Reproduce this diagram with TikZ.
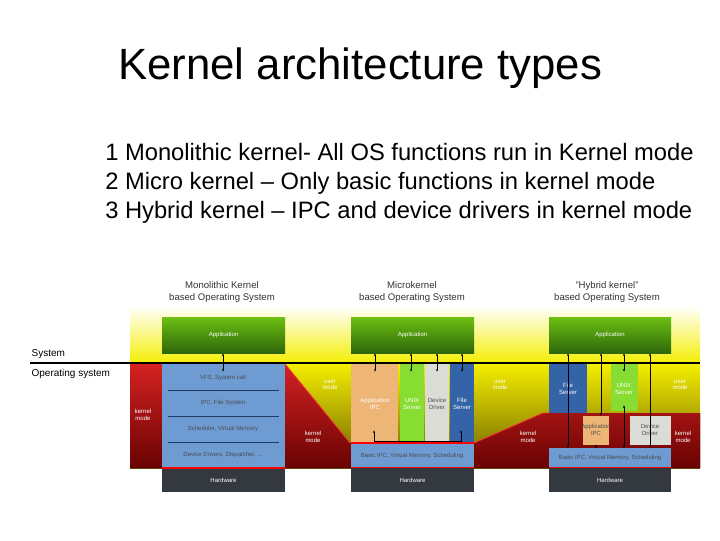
\documentclass[tikz,border=0pt]{standalone}
\usepackage{fontspec}
\setmainfont{Liberation Sans}
\usetikzlibrary{arrows.meta}
\definecolor{grn1}{HTML}{6CC012}
\definecolor{grn2}{HTML}{2E660A}
\definecolor{blu}{HTML}{6E9BD2}
\definecolor{dblu}{HTML}{3463A8}
\definecolor{hw}{HTML}{33393E}
\definecolor{red1}{HTML}{D42222}
\definecolor{red2}{HTML}{6A0202}
\definecolor{ylw}{HTML}{F4EE00}
\definecolor{olv}{HTML}{6A5E00}
\definecolor{org}{HTML}{EDB677}
\definecolor{lgrn}{HTML}{88DD33}
\definecolor{lgry}{HTML}{DCDCD6}
\tikzset{
 app/.style={top color=grn1,bottom color=grn2,draw=none},
 lbl/.style={font=\fontsize{4.5}{5}\selectfont,align=center,text=white},
 dlbl/.style={font=\fontsize{4.5}{5}\selectfont,align=center,text=black!70},
 head/.style={font=\fontsize{7.2}{8.6}\selectfont,align=center,text=black!80},
 arr/.style={{Latex[length=2pt,width=1.6pt]}-{Latex[length=2pt,width=1.6pt]},black,line width=0.5pt},
}
\begin{document}
\begin{tikzpicture}[x=0.75pt,y=-0.75pt]
\useasboundingbox (0,0) rectangle (720,540);
\node[font=\fontsize{32.8}{38}\selectfont,anchor=west,inner sep=0pt] (title) at (118,68) {Kernel architecture types};
\node[font=\fontsize{17.8}{21.6}\selectfont,anchor=north west,align=left,inner sep=0pt] (list) at (105,143)
 {1 Monolithic kernel- All OS functions run in Kernel mode\\
  2 Micro kernel – Only basic functions in kernel mode\\
  3 Hybrid kernel – IPC and device drivers in kernel mode};
% headings
\node[head] (h1) at (222,292) {Monolithic Kernel\\based Operating System};
\node[head] (h2) at (412,292) {Microkernel\\based Operating System};
\node[head] (h3) at (607,292) {"Hybrid kernel"\\based Operating System};
% backgrounds
\fill[top color=white,bottom color=ylw] (130,306) rectangle (700,364);
\fill[top color=ylw,bottom color=olv] (130,364) rectangle (700,468);
\fill[top color=red1,bottom color=red2] (130,364) -- (285,364) -- (350,443) -- (474,443) -- (543,413) -- (700,413) -- (700,468) -- (130,468) -- cycle;
\draw[red!80!white,line width=0.6pt] (285,364) -- (350,443) (474,443) -- (543,413) -- (549,413);
% monolithic
\fill[app] (162,317) rectangle (285,353);
\node[lbl] (a1) at (223.5,335) {Application};
\fill[blu] (162,364) rectangle (285,468);
\draw[dblu!60!black,line width=0.6pt] (168,390) -- (279,390) (168,416) -- (279,416) (168,442) -- (279,442);
\node[dlbl] (m1) at (223,378) {VFS, System call};
\node[dlbl] (m2) at (223,403) {IPC, File System};
\node[dlbl] (m3) at (223,429) {Scheduler, Virtual Memory};
\node[dlbl] (m4) at (223,455) {Device Drivers, Dispatcher, ...};
\fill[hw] (162,468) rectangle (285,492);
\node[lbl] (hw1) at (223.5,480) {Hardware};
\draw[red,line width=0.8pt] (162,468) -- (285,468);
\draw[arr] (223,353) -- (223,372);
\node[lbl] at (143,415) {kernel\\mode};
\node[lbl] at (330,385) {user\\mode};
\node[lbl] at (313,437) {kernel\\mode};
% microkernel
\fill[app] (351,317) rectangle (474,353);
\node[lbl] (a2) at (412.5,335) {Application};
\fill[org] (351,364) rectangle (398,443);
\fill[lgrn] (400,364) rectangle (424,443);
\fill[lgry] (425,364) rectangle (449,443);
\fill[dblu] (450,364) rectangle (474,443);
\node[lbl] at (375,404) {Application\\IPC};
\node[lbl] at (412,404) {UNIX\\Server};
\node[dlbl] at (437,404) {Device\\Driver};
\node[lbl] at (462,404) {File\\Server};
\fill[blu] (351,443) rectangle (474,468);
\draw[red,line width=0.8pt] (351,443) -- (474,443) (351,468) -- (474,468);
\node[dlbl] at (412,456) {Basic IPC, Virtual Memory, Scheduling};
\fill[hw] (351,468) rectangle (474,492);
\node[lbl] (hw2) at (412.5,480) {Hardware};
\draw[arr] (375,353) -- (375,372);
\draw[arr] (411,353) -- (411,372);
\draw[arr] (437,353) -- (437,372);
\draw[arr] (462,353) -- (462,372);
\draw[{Latex[length=2pt,width=1.6pt]}-{Latex[length=2pt,width=1.6pt]},line width=0.5pt] (374,430) -- (374,441) -- (461,441) -- (461,430);
\node[lbl] at (500,385) {user\\mode};
\node[lbl] at (528,437) {kernel\\mode};
% hybrid
\fill[app] (549,317) rectangle (671,353);
\node[lbl] (a3) at (610,335) {Application};
\fill[dblu] (549,364) rectangle (587,413);
\fill[lgrn] (611,364) rectangle (638,411);
\fill[org] (583,416) rectangle (609,445);
\fill[lgry] (630,416) rectangle (671,445);
\node[lbl] at (568,389) {File\\Server};
\node[lbl] at (624,389) {UNIX\\Server};
\node[dlbl] at (596,430) {Application\\IPC};
\node[dlbl] at (650,430) {Device\\Driver};
\fill[blu] (549,448) rectangle (671,468);
\draw[red,line width=0.8pt] (549,468) -- (671,468);
\node[dlbl] at (610,458) {Basic IPC, Virtual Memory, Scheduling};
\fill[hw] (549,468) rectangle (671,492);
\node[lbl] (hw3) at (610,480) {Hardware};
\draw[arr] (568,353) -- (568,448);
\draw[arr] (601,353) -- (601,416);
\draw[arr] (596,445) -- (596,448);
\draw[arr] (624,353) -- (624,372);
\draw[arr] (624,405) -- (624,448);
\draw[arr] (650,353) -- (650,448);
\node[lbl] at (680,385) {user\\mode};
\node[lbl] at (683,437) {kernel\\mode};
% system line
\draw[black,line width=1pt] (30,363) -- (700,363);
\node[font=\fontsize{7.5}{9}\selectfont,anchor=south west,inner sep=1pt] (sys) at (30,360) {System};
\node[font=\fontsize{7.5}{9}\selectfont,anchor=north west,inner sep=1pt] (os) at (30,368) {Operating system};
\end{tikzpicture}
\end{document}
